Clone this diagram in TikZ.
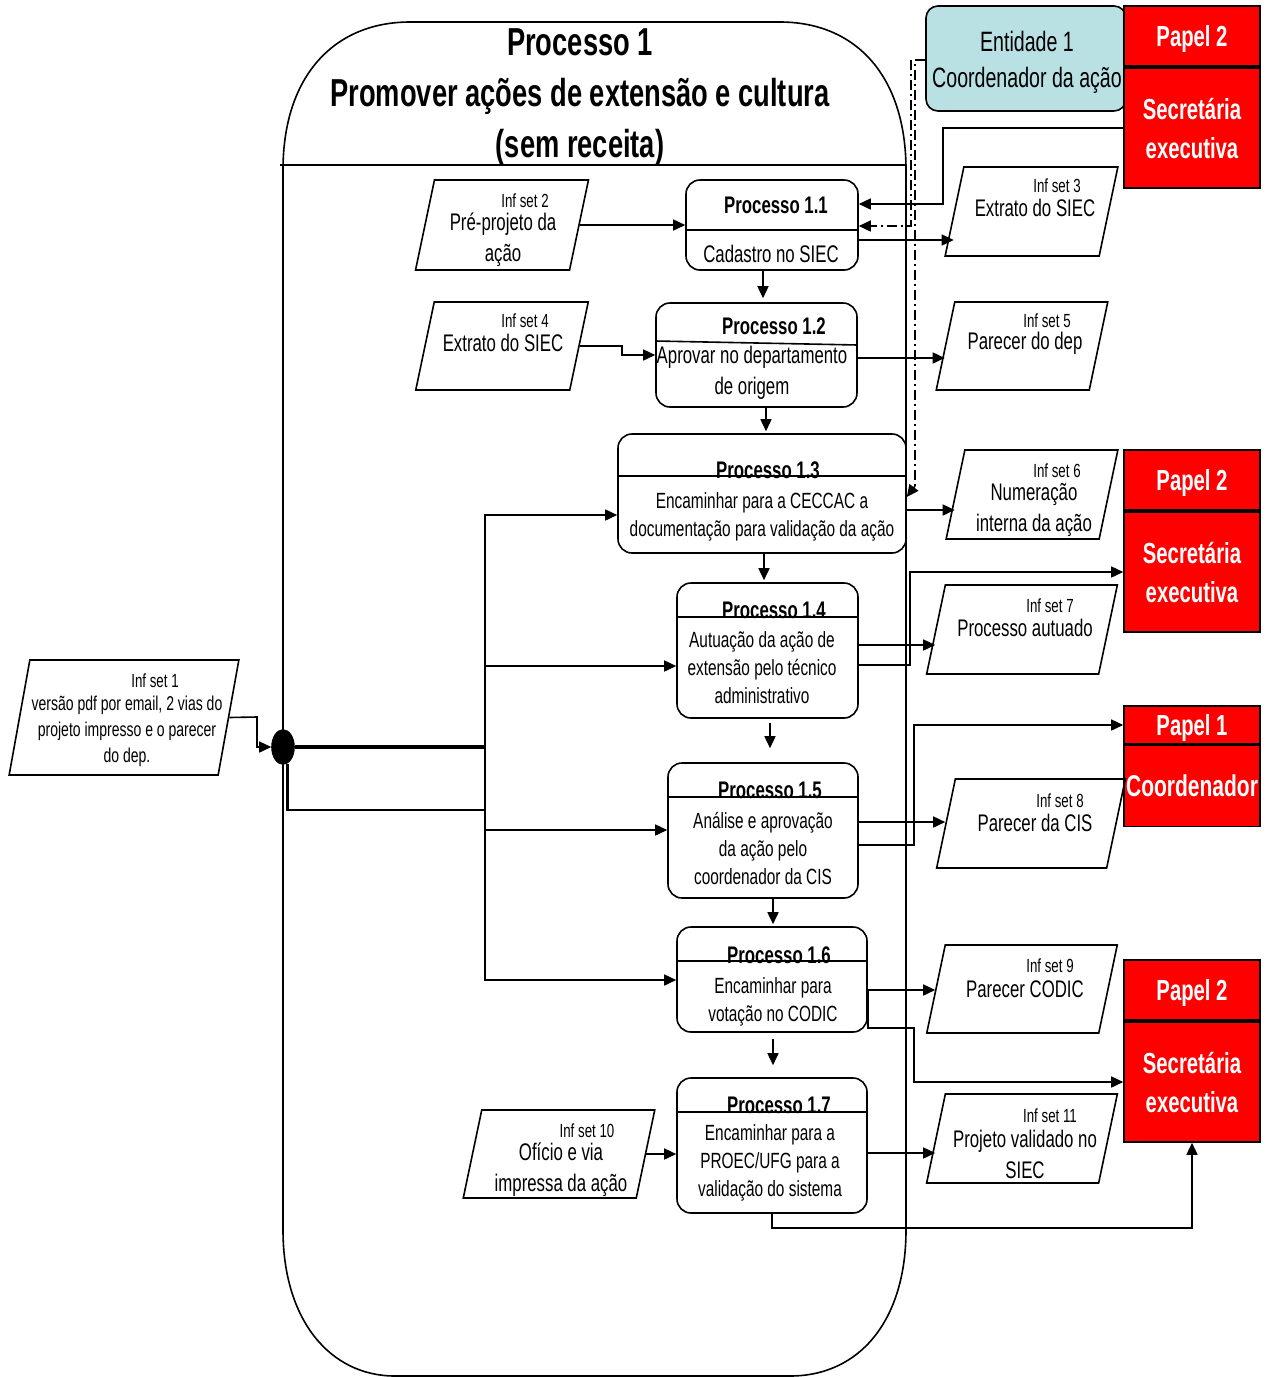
\documentclass[tikz,border=0pt]{standalone}
\usepackage{fontspec}
\setmainfont{Liberation Sans}[FakeStretch=0.7]
\usetikzlibrary{arrows.meta,fit,shapes.geometric}
\definecolor{entfill}{RGB}{185,224,227}
\definecolor{rolered}{RGB}{255,0,0}
\newcommand\fsz[2]{\fontsize{#1}{#2}\selectfont}

\begin{document}
\begin{tikzpicture}[x=0.5pt,y=-0.5pt,
  line width=0.8pt,
  procbox/.style={draw, rounded corners=7pt, inner sep=0pt, line width=0.8pt},
  infbox/.style={draw, xslant=#1, transform shape, inner sep=0pt, line width=0.8pt},
  infbox/.default=0.21,
  redbox/.style={draw, fill=rolered, inner sep=0pt, text=white, align=center,
                 text depth=0pt, minimum width=68pt, font=\bfseries\fsz{14.5}{19.5}},
  entbox/.style={draw, fill=entfill, rounded corners=6pt, inner sep=0pt},
  arr/.style={-{Triangle[length=6pt,width=5.5pt]}, line width=0.8pt},
  dashdot/.style={dash pattern=on 5pt off 2pt on 1pt off 2pt, line width=0.7pt},
  lbl/.style={inner sep=0pt, align=center, font=\fsz{12}{15.5}},
  small/.style={inner sep=0pt, font=\fsz{9.5}{11}},
  ptitle/.style={inner sep=0pt, font=\bfseries\fsz{12}{14}},
  body/.style={inner sep=0pt, align=center, font=\fsz{11}{14}},
]
\useasboundingbox (0,0) rectangle (1268,1377);

% ---- process container with its heading ----
\draw (283,170) .. controls (283,75) and (335,22) .. (410,22) -- (780,22)
      .. controls (855,22) and (906,75) .. (906,170) -- (906,1230)
      .. controls (906,1320) and (860,1376) .. (790,1376) -- (395,1376)
      .. controls (330,1376) and (283,1320) .. (283,1230) -- cycle;
\draw (280,165) -- (906,165);
\node[inner sep=0pt, align=center, font=\bfseries\fsz{19.5}{25.5}] (title) at (580,97)
  {Processo 1\\Promover ações de extensão e cultura\\(sem receita)};

% ---- entity and roles ----
\node[entbox, fit={(926,6) (1126,111)}] (ent) {};
\node[inner sep=0pt, align=center, font=\fsz{14}{18}] (ent-t) at (1027,62)
  {Entidade 1\\Coordenador da ação};

\node[redbox, minimum height=30pt] (r1a) at (1192,36) {Papel 2};
\node[redbox, minimum height=60pt] (r1b) at (1192,128) {Secretária\\executiva};
\node[redbox, minimum height=30pt] (r2a) at (1192,480) {Papel 2};
\node[redbox, minimum height=60pt] (r2b) at (1192,572) {Secretária\\executiva};
\node[redbox, minimum height=19pt] (r3a) at (1192,725) {Papel 1};
\node[redbox, minimum height=40.5pt, font=\bfseries\fsz{15}{19.5}] (r3b) at (1192,786) {Coordenador};
\node[redbox, minimum height=30pt] (r4a) at (1192,990) {Papel 2};
\node[redbox, minimum height=60pt] (r4b) at (1192,1082) {Secretária\\executiva};

% ---- processes ----
\node[procbox, fit={(686,180) (858,270)}] (p11) {};
\draw (p11.west |- 0,230) -- (p11.east |- 0,230);
\node[ptitle] (p11-t) at (776,205) {Processo 1.1};
\node[lbl] (p11-b) at (771,254) {Cadastro no SIEC};

\node[procbox, fit={(656,303) (857,407)}] (p12) {};
\draw (p12.west |- 0,341) -- (p12.east |- 0,345);
\node[ptitle] (p12-t) at (774,326) {Processo 1.2};
\node[lbl] (p12-b) at (752,373) {Aprovar no departamento\\de origem};

\node[procbox, fit={(618,434) (906,553)}] (p13) {};
\node[ptitle] (p13-t) at (768,470) {Processo 1.3};
\draw (p13.west |- 0,476) -- (p13.east |- 0,476);
\node[body] (p13-b) at (762,517) {Encaminhar para a CECCAC a\\documentação para validação da ação};

\node[procbox, fit={(677,583) (858,718)}] (p14) {};
\node[ptitle] (p14-t) at (774,610) {Processo 1.4};
\draw (p14.west |- 0,617) -- (p14.east |- 0,617);
\node[body] (p14-b) at (762,668) {Autuação da ação de\\extensão pelo técnico\\administrativo};

\node[procbox, fit={(668,763) (858,898)}] (p15) {};
\node[ptitle] (p15-t) at (770,790) {Processo 1.5};
\draw (p15.west |- 0,797) -- (p15.east |- 0,797);
\node[body] (p15-b) at (763,848) {Análise e aprovação\\da ação pelo\\coordenador da CIS};

\node[procbox, fit={(677,927) (867,1032)}] (p16) {};
\node[ptitle] (p16-t) at (779,955) {Processo 1.6};
\draw (p16.west |- 0,961) -- (p16.east |- 0,961);
\node[body] (p16-b) at (773,1002) {Encaminhar para\\votação no CODIC};

\node[procbox, fit={(677,1078) (867,1213)}] (p17) {};
\node[ptitle] (p17-t) at (779,1105) {Processo 1.7};
\draw (p17.west |- 0,1112) -- (p17.east |- 0,1112);
\node[body] (p17-b) at (770,1163) {Encaminhar para a\\PROEC/UFG para a\\validação do sistema};

% ---- information sets ----
\node[infbox=0.18, minimum width=104.5pt, minimum height=57.5pt] (inf1) at (124,717.5) {};
\node[small] (inf1-a) at (155,681) {Inf set 1};
\node[inner sep=0pt, align=center, font=\fsz{10}{13}] (inf1-b) at (127,731)
  {versão pdf por email, 2 vias do\\projeto impresso e o parecer\\do dep.};

\node[infbox, minimum width=77pt, minimum height=45pt] (inf2) at (502,225) {};
\node[small] (inf2-a) at (525,201) {Inf set 2};
\node[lbl] (inf2-b) at (503,240) {Pré-projeto da\\ação};

\node[infbox, minimum width=77pt, minimum height=44pt] (inf4) at (502,346) {};
\node[small] (inf4-a) at (525,321) {Inf set 4};
\node[lbl] (inf4-b) at (503,343) {Extrato do SIEC};

\node[infbox, minimum width=77pt, minimum height=44.5pt] (inf3) at (1031.5,211.5) {};
\node[small] (inf3-a) at (1057,186) {Inf set 3};
\node[lbl] (inf3-b) at (1035,208) {Extrato do SIEC};

\node[infbox, minimum width=76.5pt, minimum height=44pt] (inf5) at (1022,346) {};
\node[small] (inf5-a) at (1047,321) {Inf set 5};
\node[lbl] (inf5-b) at (1025,343) {Parecer do dep};

\node[infbox, minimum width=76.5pt, minimum height=44.5pt] (inf6) at (1032,494.5) {};
\node[small] (inf6-a) at (1057,471) {Inf set 6};
\node[lbl] (inf6-b) at (1034,510) {Numeração\\interna da ação};

\node[infbox, minimum width=86pt, minimum height=44.5pt] (inf7) at (1022,629.5) {};
\node[small] (inf7-a) at (1050,606) {Inf set 7};
\node[lbl] (inf7-b) at (1025,628) {Processo autuado};

\node[infbox, minimum width=85pt, minimum height=44.5pt] (inf8) at (1031,823.5) {};
\node[small] (inf8-a) at (1060,801) {Inf set 8};
\node[lbl] (inf8-b) at (1035,823) {Parecer da CIS};

\node[infbox, minimum width=86pt, minimum height=44pt] (inf9) at (1022,989) {};
\node[small] (inf9-a) at (1050,966) {Inf set 9};
\node[lbl] (inf9-b) at (1025,989) {Parecer CODIC};

\node[infbox, minimum width=86.5pt, minimum height=44pt] (inf10) at (559,1154) {};
\node[small] (inf10-a) at (587,1131) {Inf set 10};
\node[lbl] (inf10-b) at (561,1170) {Ofício e via\\impressa da ação};

\node[infbox, minimum width=86pt, minimum height=44.5pt] (inf11) at (1022,1138.5) {};
\node[small] (inf11-a) at (1050,1116) {Inf set 11};
\node[lbl] (inf11-b) at (1025,1154) {Projeto validado no\\SIEC};

% ---- junction ----
\node[ellipse, fill=black, draw, inner sep=0pt, minimum width=11pt, minimum height=17pt] (dot) at (283,747) {};
\coordinate (bus) at (485,747);

% ---- connectors ----
\draw[arr] (inf1.east) -- (257,717) |- (dot.west);
\draw[line width=1.6pt] (dot.east) -- (bus);
\draw[line width=1.1pt] (dot.-75) |- (bus |- 0,810) -- (bus);
\draw[arr] (bus) |- (p13.west |- 0,515);
\draw[arr] (bus) |- (p14.west |- 0,666);
\draw[arr] (bus) |- (p15.west |- 0,830);
\draw[arr] (bus) |- (p16.west |- 0,980);

\draw[arr] (inf2.east) -- (p11.west |- inf2.east);
\draw[arr] (inf4.east) -- (622,346) |- (p12.west);
\draw[arr] (r1b.west) -- (943,128) |- (p11.east |- 0,204);
\draw[arr] (p11.east |- 0,240) -- (inf3.west |- 0,240);
\draw[dashdot] (ent.west |- 0,60) -- (915,60) -- (915,486);
\draw[dashdot, arr] (915,486) -- (p13.east |- 0,497);
\draw[dashdot, arr] (911,60) -- (911,226) -- (p11.east |- 0,226);

\draw[arr] (p12.east |- 0,358) -- (inf5.west |- 0,358);
\draw[arr] (p13.east |- 0,510) -- (inf6.west |- 0,510);
\draw[arr] (p14.east |- 0,645) -- (inf7.west |- 0,645);
\draw[arr] (p14.east |- 0,665) -- (910,665) |- (r2b.west);
\draw[arr] (p15.east |- 0,822) -- (inf8.west |- 0,822);
\draw[arr] (p15.east |- 0,845) -- (914,845) |- (r3a.west);
\draw[arr] (p16.east |- 0,990) -- (inf9.west |- 0,990);
\draw[arr] (p16.east |- 0,990) -- (p16.east |- 0,1028) -- (914,1028) |- (r4b.west);
\draw[arr] (inf10.east) -- (p17.west |- inf10.east);
\draw[arr] (p17.east |- 0,1153) -- (inf11.west |- 0,1153);
\draw[arr] (p17.south) -- (p17.south |- 0,1228) -| (r4b.south);

% ---- flow between processes ----
\draw[arr, shorten >=2pt] (p11.south -| 763,0) -- (p12.north -| 763,0);
\draw[arr, shorten >=1pt] (p12.south -| 766,0) -- (p13.north -| 766,0);
\draw[arr, shorten >=1pt] (p13.south -| 764,0) -- (p14.north -| 764,0);
\draw[arr, shorten <=2pt, shorten >=7pt] (p14.south -| 770,0) -- (p15.north -| 770,0);
\draw[arr, shorten >=1pt] (p15.south -| 773,0) -- (p16.north -| 773,0);
\draw[arr, shorten <=3pt, shorten >=6pt] (p16.south -| 773,0) -- (p17.north -| 773,0);
\end{tikzpicture}
\end{document}
